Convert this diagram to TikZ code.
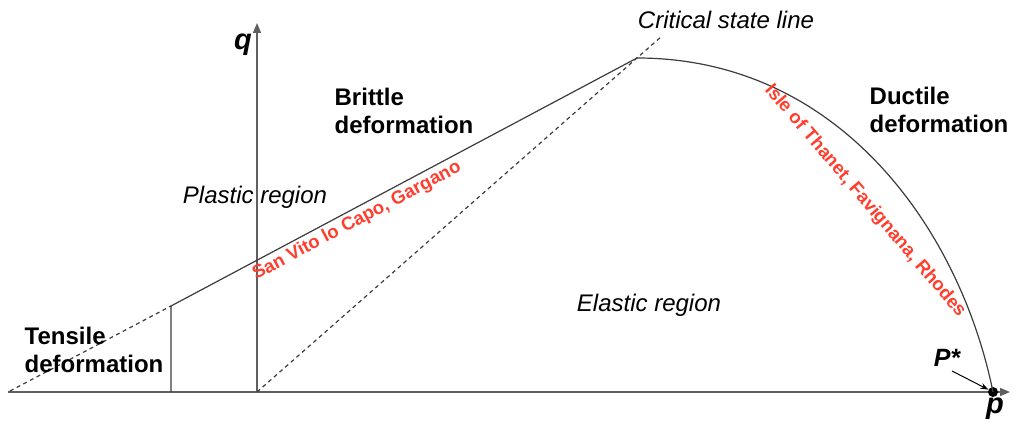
\documentclass[tikz,border=0pt]{standalone}
\usepackage{fontspec}
\setmainfont{Liberation Sans}
\usetikzlibrary{arrows.meta}
\definecolor{axisgray}{RGB}{95,95,95}
\definecolor{linegray}{RGB}{60,60,60}
\definecolor{sitered}{RGB}{255,62,46}

\begin{document}
\begin{tikzpicture}[x=1pt,y=-1pt]
\tikzstyle{every node}=[inner sep=0pt]
\tikzstyle{zone}=[font=\fontsize{24}{27.5}\selectfont\bfseries, align=left]
\tikzstyle{region}=[font=\fontsize{24}{28}\selectfont\itshape]
\tikzstyle{site}=[font=\fontsize{18.5}{20}\selectfont\bfseries, text=sitered]
\tikzstyle{axislbl}=[font=\fontsize{29}{30}\selectfont\bfseries\itshape]
\tikzstyle{axis}=[draw=axisgray, line width=1.4pt, -{Triangle[length=10pt,width=8pt]}]
\tikzstyle{edge}=[draw=linegray, line width=1.2pt]
\tikzstyle{dashline}=[draw=linegray, line width=1.2pt, dash pattern=on 4pt off 3.5pt]
\useasboundingbox (0,0) rectangle (1016,427);
% corner points
\coordinate (p0) at (8,392);
\coordinate (p1) at (1010,392);
\coordinate (o) at (257,392);
\coordinate (q1) at (257,23);
\coordinate (t0) at (10,391);
\coordinate (kt) at (171,306);
\coordinate (kb) at (171,392);
\coordinate (peak) at (637,58);
\coordinate (cs) at (662,36);
\coordinate (pa) at (952,371);
% axes
\draw[axis] (p0) -- (p1);
\draw[axis] (o) -- (q1);
% yield envelope
\draw[dashline] (t0) -- (kt);
\draw[edge] (kb) -- (kt) -- (peak);
\draw[dashline] (o) -- (cs);
\node (pstar) at (993,392) [circle, fill=black, minimum size=10pt] {};
\draw[edge] (peak) .. controls (840,58) and (960,230) .. (pstar.center);
\draw[-{Stealth[length=8pt,width=6pt]}, line width=1pt] (pa) -- (pstar);
% labels
\node (q) at (243,45) [axislbl] {q};
\node (p) at (995,409) [axislbl] {p};
\node (plbl) at (947,358) [font=\fontsize{25}{26}\selectfont\bfseries\itshape] {P*};
\node (csl) at (726,20) [region] {Critical state line};
\node (brittle) at (404,111) [zone] {Brittle\\deformation};
\node (ductile) at (939,110) [zone] {Ductile\\deformation};
\node (tensile) at (94,350) [zone] {Tensile\\deformation};
\node (plastic) at (255,197) [region] {Plastic region};
\node (elastic) at (649,305) [region] {Elastic region};
\node (svito) at (357,221) [site, rotate=28] {San Vito lo Capo, Gargano};
\node (thanet) at (865,201) [site, rotate=-49.5] {Isle of Thanet, Favignana, Rhodes};
\end{tikzpicture}
\end{document}
